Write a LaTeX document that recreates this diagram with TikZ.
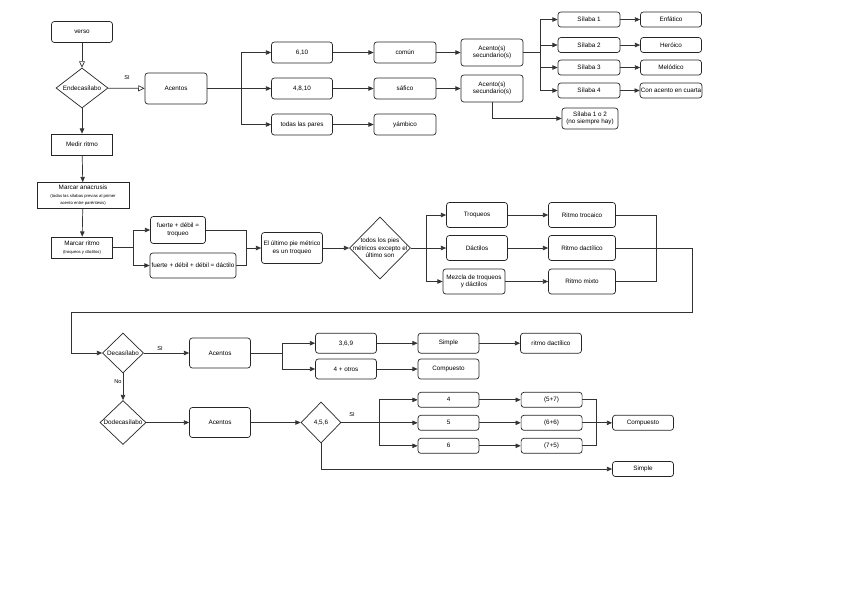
\documentclass[tikz,border=0pt]{standalone}
\usepackage{fontspec}
\setmainfont{Liberation Sans}
\usetikzlibrary{shapes.geometric, arrows.meta}
\newcommand{\notetxt}{\fontsize{3}{3.6}\selectfont}

\begin{document}
\begin{tikzpicture}[
  font=\fontsize{4.5}{5.4}\selectfont,
  line width=0.5pt,
  box/.style={draw=black!85, fill=white, rounded corners=2pt, align=center,
              minimum width=1.525cm, minimum height=0.525cm, inner sep=1pt},
  sq/.style={box, rounded corners=0pt},
  dec/.style={draw=black!85, fill=white, diamond, inner sep=0pt},
  ln/.style={draw=black!80},
  arr/.style={draw=black!80, -{Triangle[length=1.3mm, width=1.1mm]}},
  hollow/.style={draw=black!80, -{Triangle[open, length=1.6mm, width=1.5mm]}},
  lbl/.style={font=\fontsize{4}{5}\selectfont},
]
\useasboundingbox (0,0) rectangle (21.2,-15.025);

\node[box] (verso) at (2.05,-0.8) {verso};
\node[dec, minimum width=1.3cm, minimum height=1cm, label=center:Endecasílabo] (ende) at (2.05,-2.2) {};
\node[box, minimum width=1.55cm, minimum height=0.775cm] (acA) at (4.4,-2.2125) {Acentos};
\node[sq] (medir) at (2.05,-3.6125) {Medir ritmo};
\node[sq, minimum width=2.3cm, minimum height=0.65cm] (anac) at (2.075,-4.8875)
  {Marcar anacrusis\\\notetxt (todas las sílabas previas al primer\\\notetxt acento entre paréntesis)};
\node[sq] (ritmo) at (2.05,-6.1875) {Marcar ritmo\\\notetxt (troqueos y dáctilos)};
\node[box, minimum width=1.375cm, minimum height=0.675cm] (troq) at (4.45,-5.75) {fuerte + débil =\\troqueo};
\node[box, minimum width=2.15cm, minimum height=0.625cm] (dact) at (4.825,-6.6375) {fuerte + débil + débil = dáctilo};
\node[box, minimum height=0.775cm] (ultimo) at (7.3,-6.2) {El último pie métrico\\es un troqueo};
\node[dec, minimum width=1.525cm, minimum height=1.55cm,
  label={[align=center]center:todos los pies\\métricos excepto el\\último son}] (todos) at (9.5,-6.2) {};
\node[box, minimum height=0.625cm] (troqs) at (11.925,-5.375) {Troqueos};
\node[box, minimum height=0.625cm] (dacts) at (11.925,-6.2) {Dáctilos};
\node[box, minimum width=1.55cm, minimum height=0.625cm] (mezcla) at (11.85,-7.0375) {Mezcla de troqueos\\y dáctilos};
\node[box, minimum width=1.675cm, minimum height=0.625cm] (rtroc) at (14.55,-5.375) {Ritmo trocaico};
\node[box, minimum width=1.675cm, minimum height=0.625cm] (rdact) at (14.55,-6.2) {Ritmo dactílico};
\node[box, minimum width=1.675cm, minimum height=0.625cm] (rmixto) at (14.55,-7.0375) {Ritmo mixto};

\node[box] (p610) at (7.55,-1.3125) {6,10};
\node[box] (p4810) at (7.55,-2.2125) {4,8,10};
\node[box] (pares) at (7.55,-3.1125) {todas las pares};
\node[box, minimum width=1.55cm] (comun) at (10.125,-1.3125) {común};
\node[box, minimum width=1.55cm] (safico) at (10.125,-2.2125) {sáfico};
\node[box, minimum width=1.55cm] (yambico) at (10.125,-3.1125) {yámbico};
\node[box, minimum width=1.55cm, minimum height=0.675cm] (secA) at (12.3,-1.3125) {Acento(s)\\secundario(s)};
\node[box, minimum width=1.55cm, minimum height=0.675cm] (secB) at (12.3,-2.2125) {Acento(s)\\secundario(s)};
\node[box, minimum width=1.55cm, minimum height=0.375cm] (sil1) at (14.725,-0.4875) {Sílaba 1};
\node[box, minimum width=1.55cm, minimum height=0.375cm] (sil2) at (14.725,-1.125) {Sílaba 2};
\node[box, minimum width=1.55cm, minimum height=0.375cm] (sil3) at (14.725,-1.6875) {Sílaba 3};
\node[box, minimum width=1.55cm, minimum height=0.375cm] (sil4) at (14.725,-2.2625) {Sílaba 4};
\node[box, minimum height=0.375cm] (enf) at (16.775,-0.4875) {Enfático};
\node[box, minimum height=0.375cm] (hero) at (16.775,-1.125) {Heróico};
\node[box, minimum height=0.375cm] (melo) at (16.775,-1.6875) {Melódico};
\node[box, minimum height=0.375cm, inner sep=0.5pt] (cuarta) at (16.775,-2.2625) {Con acento en cuarta};
\node[box, minimum width=1.4cm] (sil12) at (14.75,-2.9625) {Sílaba 1 o 2\\(no siempre hay)};

\node[dec, minimum width=1.025cm, minimum height=1cm, label=center:Decasílabo] (deca) at (3.075,-8.825) {};
\node[box, minimum height=0.75cm] (acB) at (5.5,-8.825) {Acentos};
\node[box, minimum height=0.5cm] (p369) at (8.65,-8.58) {3,6,9};
\node[box, minimum height=0.5cm] (otros) at (8.65,-9.225) {4 + otros};
\node[box, minimum height=0.5cm] (simA) at (11.2125,-8.58) {Simple};
\node[box, minimum height=0.5cm] (compA) at (11.2125,-9.225) {Compuesto};
\node[box, minimum height=0.5cm] (rdB) at (13.775,-8.58) {ritmo dactílico};
\node[dec, minimum width=1.15cm, minimum height=1.1cm, label=center:Dodecasílabo] (dodeca) at (3.075,-10.5625) {};
\node[box, minimum height=0.75cm] (acC) at (5.5,-10.5625) {Acentos};
\node[dec, minimum width=1cm, minimum height=1.025cm, label={center:4,5,6}] (d456) at (8.025,-10.5625) {};
\node[box, minimum height=0.375cm] (b4) at (11.2125,-9.995) {4};
\node[box, minimum height=0.375cm] (b5) at (11.2125,-10.57) {5};
\node[box, minimum height=0.375cm] (b6) at (11.2125,-11.145) {6};
\node[box, minimum height=0.375cm] (b57) at (13.79,-9.995) {(5+7)};
\node[box, minimum height=0.375cm] (b66) at (13.79,-10.57) {(6+6)};
\node[box, minimum height=0.375cm] (b75) at (13.79,-11.145) {(7+5)};
\node[box, minimum height=0.375cm] (compB) at (16.075,-10.57) {Compuesto};
\node[box, minimum height=0.375cm] (simB) at (16.075,-11.725) {Simple};

\node[lbl] (si1) at (3.175,-1.95) {SI};
\node[lbl] (si2) at (4.0,-8.725) {SI};
\node[lbl] (lno) at (2.95,-9.54) {No};
\node[lbl] (si3) at (8.8,-10.375) {SI};

\coordinate (s1) at (6.04,-2.2125);
\coordinate (s2) at (13.52,-1.3125);
\coordinate (s3) at (3.325,-6.1875);
\coordinate (m1) at (6.16,-6.2);
\coordinate (s4) at (10.65,-6.2);
\coordinate (m2) at (16.42,-6.2);
\coordinate (c1) at (17.32,-7.82);
\coordinate (c2) at (1.79,-7.82);
\coordinate (s5) at (7.06,-8.825);
\coordinate (s6) at (9.48,-10.5625);
\coordinate (m3) at (14.92,-10.57);

\draw[hollow] (verso) -- (ende);
\draw[hollow] (ende) -- (acA);
\draw[arr] (ende) -- (medir);
\draw[arr] (medir) -- (anac);
\draw[arr] (anac) -- (ritmo);

\draw[ln] (acA) -- (s1);
\foreach \n in {p610, p4810, pares} \draw[arr] (s1) |- (\n);
\draw[arr] (p610) -- (comun);
\draw[arr] (p4810) -- (safico);
\draw[arr] (pares) -- (yambico);
\draw[arr] (comun) -- (secA);
\draw[arr] (safico) -- (secB);
\draw[ln] (secA) -- (s2);
\foreach \a/\b in {sil1/enf, sil2/hero, sil3/melo, sil4/cuarta} {
  \draw[arr] (s2) |- (\a);
  \draw[arr] (\a) -- (\b);
}
\draw[arr] (secB) |- (sil12);

\draw[ln] (ritmo) -- (s3);
\draw[arr] (s3) |- (troq);
\draw[arr] (s3) |- (dact);
\draw[ln] (troq) -| (m1);
\draw[ln] (dact) -| (m1);
\draw[arr] (m1) -- (ultimo);
\draw[arr] (ultimo) -- (todos);
\draw[ln] (todos) -- (s4);
\foreach \n in {troqs, dacts, mezcla} \draw[arr] (s4) |- (\n);
\draw[arr] (troqs) -- (rtroc);
\draw[arr] (dacts) -- (rdact);
\draw[arr] (mezcla) -- (rmixto);
\draw[ln] (rtroc) -| (m2);
\draw[ln] (rmixto) -| (m2);
\draw[arr] (rdact) -| (c1) -- (c2) |- (deca);

\draw[arr] (deca) -- (acB);
\draw[arr] (deca) -- (dodeca);
\draw[ln] (acB) -- (s5);
\draw[arr] (s5) |- (p369);
\draw[arr] (s5) |- (otros);
\draw[arr] (p369) -- (simA);
\draw[arr] (otros) -- (compA);
\draw[arr] (simA) -- (rdB);

\draw[arr] (dodeca) -- (acC);
\draw[arr] (acC) -- (d456);
\draw[ln] (d456) -- (s6);
\foreach \n in {b4, b5, b6} \draw[arr] (s6) |- (\n);
\draw[arr] (b4) -- (b57);
\draw[arr] (b5) -- (b66);
\draw[arr] (b6) -- (b75);
\draw[ln] (b57) -| (m3);
\draw[ln] (b75) -| (m3);
\draw[arr] (b66) -- (compB);
\draw[arr] (d456) |- (simB);
\end{tikzpicture}
\end{document}
